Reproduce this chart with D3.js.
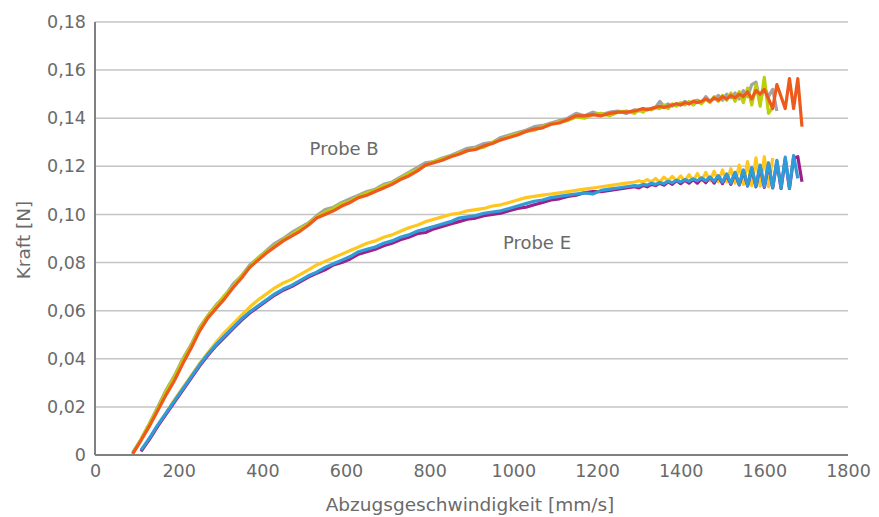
<!DOCTYPE html>
<html lang="de">
<head>
  <meta charset="UTF-8">
  <title>Kraft vs. Abzugsgeschwindigkeit</title>
  <script src="https://d3js.org/d3.v7.min.js"></script>
  <style>
    body { margin: 0; background: #fff; }
    svg { font-family: "DejaVu Sans", sans-serif; }
    .tick-label { font-size: 17.5px; fill: #6a6a6a; }
    .axis-title { font-size: 18.5px; fill: #6a6a6a; }
    .probe-label { font-size: 18px; fill: #6a6a6a; }
  </style>
</head>
<body>
  <div id="chart"></div>

  <script>
    // x values [mm/s], shared by all curves
    const speed = [
      90, 110, 130, 150, 170, 190, 210, 230, 250, 270,
      290, 310, 330, 350, 370, 390, 410, 430, 450, 470,
      490, 510, 530, 550, 570, 590, 610, 630, 650, 670,
      690, 710, 730, 750, 770, 790, 810, 830, 850, 870,
      890, 910, 930, 950, 970, 990, 1010, 1030, 1050, 1070,
      1090, 1110, 1130, 1150, 1170, 1190, 1210, 1230, 1250, 1270,
      1290, 1300, 1310, 1320, 1330, 1340, 1350, 1360, 1370, 1380,
      1390, 1400, 1410, 1420, 1430, 1440, 1450, 1460, 1470, 1480,
      1490, 1500, 1510, 1520, 1530, 1540, 1550, 1560, 1570, 1580,
      1590, 1600, 1610, 1620, 1630, 1640, 1650, 1660, 1670, 1680,
      1690, 1700
    ];

    // Probe B [N]
    const probeBGray = [
      .0010, .0065, .0130, .0200, .0270, .0330, .0400, .0460, .0530, .0580,
      .0625, .0660, .0710, .0745, .0790, .0820, .0850, .0880, .0900, .0925,
      .0945, .0965, .0995, .1020, .1030, .1050, .1065, .1080, .1095, .1105,
      .1125, .1135, .1155, .1175, .1195, .1215, .1220, .1235, .1245, .1260,
      .1275, .1280, .1295, .1300, .1320, .1330, .1340, .1350, .1365, .1370,
      .1380, .1390, .1400, .1420, .1410, .1425, .1415, .1425, .1430, .1420,
      .1435, .1430, .1440, .1435, .1440, .1445, .1470, .1450, .1460, .1450,
      .1460, .1455, .1470, .1460, .1470, .1475, .1465, .1490, .1470, .1480,
      .1495, .1475, .1500, .1485, .1505, .1480, .1515, .1490, .1540, .1550,
      .1470, .1530, .1490, .1520, .1430, null, null, null, null, null,
      null, null
    ];
    const probeBGreen = [
      .0005, .0065, .0130, .0195, .0265, .0325, .0395, .0455, .0525, .0580,
      .0620, .0665, .0700, .0745, .0780, .0820, .0845, .0870, .0895, .0915,
      .0940, .0960, .0990, .1010, .1025, .1045, .1055, .1075, .1090, .1100,
      .1120, .1130, .1150, .1170, .1185, .1205, .1220, .1230, .1240, .1255,
      .1265, .1275, .1280, .1300, .1310, .1325, .1335, .1345, .1350, .1365,
      .1375, .1385, .1390, .1405, .1400, .1415, .1420, .1410, .1425, .1430,
      .1420, .1435, .1425, .1440, .1435, .1445, .1440, .1455, .1440, .1460,
      .1450, .1465, .1455, .1470, .1455, .1470, .1460, .1480, .1465, .1490,
      .1470, .1495, .1475, .1505, .1470, .1510, .1465, .1525, .1455, .1540,
      .1450, .1570, .1420, .1445, null, null, null, null, null, null,
      null, null
    ];
    const probeBOrange = [
      .0005, .0060, .0120, .0185, .0250, .0310, .0380, .0445, .0515, .0570,
      .0610, .0650, .0695, .0735, .0780, .0810, .0840, .0865, .0890, .0910,
      .0930, .0955, .0985, .1000, .1015, .1035, .1050, .1070, .1080, .1095,
      .1110, .1125, .1145, .1160, .1180, .1205, .1215, .1225, .1240, .1250,
      .1265, .1270, .1285, .1295, .1310, .1320, .1330, .1345, .1355, .1360,
      .1375, .1380, .1395, .1410, .1410, .1415, .1410, .1420, .1425, .1425,
      .1430, .1435, .1440, .1435, .1440, .1445, .1450, .1445, .1450, .1455,
      .1460, .1455, .1465, .1460, .1470, .1465, .1470, .1480, .1470, .1485,
      .1475, .1490, .1480, .1495, .1485, .1500, .1490, .1510, .1480, .1515,
      .1500, .1520, .1480, .1440, .1540, .1490, .1440, .1565, .1440, .1565,
      .1365, null
    ];

    // Probe E [N]
    const probeEYellow = [
      null, .0015, .0065, .0120, .0175, .0230, .0280, .0330, .0380, .0425,
      .0470, .0510, .0545, .0580, .0615, .0645, .0670, .0695, .0715, .0730,
      .0750, .0770, .0790, .0805, .0820, .0835, .0850, .0865, .0880, .0890,
      .0905, .0915, .0930, .0945, .0955, .0970, .0980, .0990, .1000, .1005,
      .1015, .1020, .1025, .1035, .1040, .1050, .1060, .1070, .1075, .1080,
      .1085, .1090, .1095, .1100, .1105, .1110, .1115, .1120, .1125, .1130,
      .1135, .1140, .1135, .1145, .1135, .1150, .1135, .1155, .1140, .1158,
      .1140, .1160, .1140, .1165, .1140, .1170, .1140, .1175, .1140, .1180,
      .1135, .1185, .1135, .1190, .1130, .1205, .1125, .1220, .1120, .1235,
      .1118, .1240, .1115, .1235, null, null, null, null, null, null,
      null, null
    ];
    const probeEPurple = [
      null, .0015, .0065, .0120, .0170, .0220, .0270, .0320, .0370, .0415,
      .0455, .0490, .0525, .0560, .0590, .0615, .0640, .0665, .0685, .0700,
      .0720, .0740, .0755, .0770, .0790, .0800, .0815, .0835, .0845, .0855,
      .0870, .0880, .0895, .0905, .0920, .0925, .0940, .0950, .0960, .0970,
      .0980, .0985, .0995, .1000, .1005, .1015, .1025, .1030, .1040, .1050,
      .1060, .1065, .1075, .1080, .1090, .1095, .1095, .1100, .1105, .1110,
      .1115, .1110, .1120, .1115, .1125, .1120, .1130, .1122, .1135, .1125,
      .1140, .1128, .1142, .1130, .1145, .1130, .1150, .1132, .1155, .1130,
      .1160, .1128, .1165, .1125, .1172, .1122, .1180, .1118, .1190, .1115,
      .1200, .1112, .1210, .1110, .1220, .1108, .1230, .1108, .1235, .1240,
      .1136, null
    ];
    const probeEBlue = [
      null, .0020, .0070, .0125, .0175, .0225, .0275, .0325, .0375, .0420,
      .0460, .0495, .0530, .0565, .0595, .0620, .0645, .0670, .0690, .0705,
      .0725, .0745, .0760, .0780, .0795, .0810, .0825, .0845, .0855, .0865,
      .0880, .0890, .0905, .0915, .0930, .0940, .0950, .0960, .0970, .0985,
      .0990, .0995, .1005, .1010, .1015, .1025, .1035, .1045, .1055, .1060,
      .1070, .1075, .1080, .1085, .1090, .1085, .1100, .1105, .1110, .1115,
      .1120, .1118, .1125, .1122, .1130, .1125, .1133, .1128, .1138, .1132,
      .1142, .1135, .1145, .1138, .1148, .1140, .1152, .1140, .1155, .1138,
      .1160, .1135, .1168, .1130, .1175, .1125, .1185, .1120, .1195, .1118,
      .1205, .1115, .1215, .1112, .1225, .1110, .1238, .1110, .1245, .1150,
      null, null
    ];

    const xTicks = [0, 200, 400, 600, 800, 1000, 1200, 1400, 1600, 1800];
    const yTicks = [0, 0.02, 0.04, 0.06, 0.08, 0.10, 0.12, 0.14, 0.16, 0.18];

    const series = [
      { values: probeEYellow, color: "#ffc61e" },
      { values: probeEPurple, color: "#9e1f8c" },
      { values: probeEBlue, color: "#2f9bd7" },
      { values: probeBGray, color: "#a3a3a3" },
      { values: probeBGreen, color: "#bccf0c" },
      { values: probeBOrange, color: "#ee5a1c" }
    ];

    const width = 879;
    const height = 517;
    const margin = { top: 22, right: 31, bottom: 62, left: 95 };

    const svg = d3.select("#chart")
      .append("svg")
      .attr("width", width)
      .attr("height", height);

    const x = d3.scaleLinear()
      .domain([0, 1800])
      .range([margin.left, width - margin.right]);

    const y = d3.scaleLinear()
      .domain([0, 0.18])
      .range([height - margin.bottom, margin.top]);

    const de = d3.formatLocale({ decimal: ",", thousands: ".", grouping: [3], currency: ["", " €"] });
    const fmtY = d => d === 0 ? "0" : de.format(".2f")(d);

    // horizontal gridlines
    svg.append("g")
      .selectAll("line")
      .data(yTicks.filter(d => d > 0))
      .join("line")
      .attr("x1", x(0))
      .attr("x2", x(1800))
      .attr("y1", d => y(d))
      .attr("y2", d => y(d))
      .attr("stroke", "#c4c4c4")
      .attr("stroke-width", 1.5);

    // axes (labels only, no tick marks)
    const yAxis = svg.append("g")
      .attr("transform", `translate(${x(0)},0)`)
      .call(d3.axisLeft(y).tickValues(yTicks).tickFormat(fmtY).tickSize(0).tickPadding(9));
    const xAxis = svg.append("g")
      .attr("transform", `translate(0,${y(0)})`)
      .call(d3.axisBottom(x).tickValues(xTicks).tickFormat(d3.format("d")).tickSize(0).tickPadding(10));

    [yAxis, xAxis].forEach(g => {
      g.select(".domain").remove();
      g.selectAll("text")
        .attr("class", "tick-label")
        .attr("fill", null);
      g.attr("font-size", null).attr("font-family", null);
    });

    // curves
    const line = d3.line()
      .defined(d => d[1] != null)
      .x(d => x(d[0]))
      .y(d => y(d[1]));

    svg.append("g")
      .selectAll("path")
      .data(series)
      .join("path")
      .attr("d", s => line(speed.map((v, i) => [v, s.values[i]])))
      .attr("fill", "none")
      .attr("stroke", s => s.color)
      .attr("stroke-width", 3.2)
      .attr("stroke-linejoin", "round");

    // axis lines
    svg.append("line")
      .attr("x1", x(0)).attr("x2", x(0))
      .attr("y1", y(0.18)).attr("y2", y(0))
      .attr("stroke", "#808080").attr("stroke-width", 2);
    svg.append("line")
      .attr("x1", x(0)).attr("x2", x(1800))
      .attr("y1", y(0)).attr("y2", y(0))
      .attr("stroke", "#808080").attr("stroke-width", 2);

    // axis titles
    svg.append("text")
      .attr("class", "axis-title")
      .attr("x", 470)
      .attr("y", 511)
      .attr("text-anchor", "middle")
      .text("Abzugsgeschwindigkeit [mm/s]");

    svg.append("text")
      .attr("class", "axis-title")
      .attr("transform", "translate(30,240) rotate(-90)")
      .attr("text-anchor", "middle")
      .text("Kraft [N]");

    // probe labels
    svg.append("text")
      .attr("class", "probe-label")
      .attr("x", x(513))
      .attr("y", y(0.1248))
      .text("Probe B");

    svg.append("text")
      .attr("class", "probe-label")
      .attr("x", x(975))
      .attr("y", y(0.0858))
      .text("Probe E");
  </script>
</body>
</html>
